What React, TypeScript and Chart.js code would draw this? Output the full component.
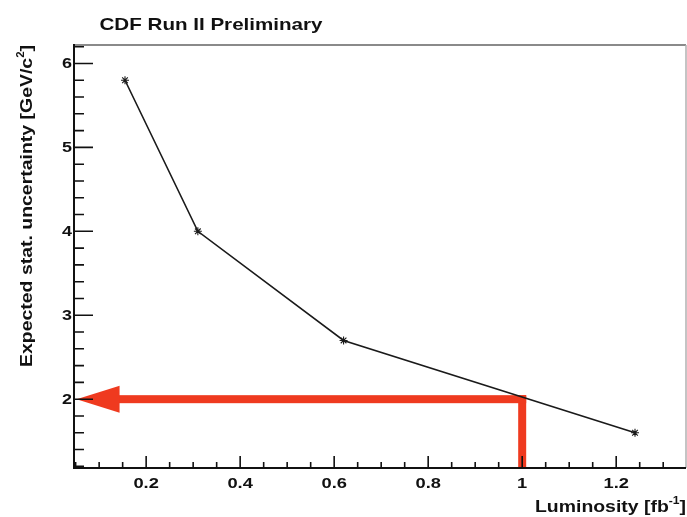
import React, { useEffect, useRef } from 'react';
import { Chart, registerables } from 'chart.js';

Chart.register(...registerables);

// ---- data ----
const luminosity = [0.155, 0.31, 0.62, 1.24];
const uncertainty = [5.8, 4.0, 2.7, 1.6];
const xTickValues = [0.2, 0.4, 0.6, 0.8, 1.0, 1.2];
const xTickLabels = ['0.2', '0.4', '0.6', '0.8', '1', '1.2'];
const yTickValues = [2, 3, 4, 5, 6];
const yTickLabels = ['2', '3', '4', '5', '6'];
const arrowStart = [1.0, 2.0]; // [luminosity, uncertainty] of the arrow corner
const arrowTipLuminosity = [0.052];
const titleText = 'CDF Run II Preliminary';
const xTitleParts = ['Luminosity [fb', '-1', ']'];
const yTitleParts = ['Expected stat. uncertainty [GeV/c', '2', ']'];

const FONT = '"Liberation Sans", Arial, Helvetica, sans-serif';
const RED = '#ef3a1f';

type Seg = { t: string; sup?: boolean };

function fontFor(size: number, sup?: boolean) {
  return `bold ${sup ? Math.round(size * 0.6) : size}px ${FONT}`;
}

function segsWidth(ctx: CanvasRenderingContext2D, segs: Seg[], size: number) {
  let w = 0;
  for (const s of segs) {
    ctx.font = fontFor(size, s.sup);
    w += ctx.measureText(s.t).width;
  }
  return w;
}

function drawSegs(
  ctx: CanvasRenderingContext2D,
  segs: Seg[],
  size: number,
  x: number,
  y: number,
  align: 'left' | 'right' | 'center',
  opts: { target?: number; sx?: number; rotate?: number } = {}
) {
  const w = segsWidth(ctx, segs, size);
  const scale = opts.target ? opts.target / w : opts.sx ?? 1;
  ctx.save();
  ctx.translate(x, y);
  if (opts.rotate) ctx.rotate(opts.rotate);
  ctx.scale(scale, 1);
  let cx = align === 'left' ? 0 : align === 'right' ? -w : -w / 2;
  ctx.fillStyle = '#111';
  ctx.textAlign = 'left';
  ctx.textBaseline = 'alphabetic';
  for (const s of segs) {
    ctx.font = fontFor(size, s.sup);
    ctx.fillText(s.t, cx, s.sup ? -size * 0.5 : 0);
    cx += ctx.measureText(s.t).width;
  }
  ctx.restore();
}

const arrowPlugin = {
  id: 'redArrow',
  beforeDatasetsDraw(chart: any) {
    const { ctx, chartArea, scales } = chart;
    const xs = scales.x.getPixelForValue(arrowStart[0]);
    const ys = scales.y.getPixelForValue(arrowStart[1]);
    const tip = scales.x.getPixelForValue(arrowTipLuminosity[0]);
    const headLen = 43;
    const headHalf = 13.5;
    const half = 4;
    ctx.save();
    ctx.fillStyle = RED;
    ctx.fillRect(xs - half, ys - half, half * 2, chartArea.bottom - (ys - half));
    ctx.fillRect(tip + headLen - 1, ys - half, xs + half - (tip + headLen - 1), half * 2);
    ctx.beginPath();
    ctx.moveTo(tip, ys);
    ctx.lineTo(tip + headLen, ys - headHalf);
    ctx.lineTo(tip + headLen, ys + headHalf);
    ctx.closePath();
    ctx.fill();
    ctx.restore();
  },
};

const rootStylePlugin = {
  id: 'rootStyle',
  afterDraw(chart: any) {
    const { ctx, chartArea, scales } = chart;
    const { left, right, top, bottom } = chartArea;
    const xs = scales.x;
    const ys = scales.y;
    ctx.save();
    // frame
    ctx.strokeStyle = '#8a8a8a';
    ctx.lineWidth = 2;
    ctx.beginPath();
    ctx.moveTo(left, top);
    ctx.lineTo(right, top);
    ctx.stroke();
    ctx.strokeStyle = '#b0b0b0';
    ctx.lineWidth = 1.5;
    ctx.beginPath();
    ctx.moveTo(right, top);
    ctx.lineTo(right, bottom);
    ctx.stroke();
    // axes
    ctx.strokeStyle = '#111';
    ctx.lineWidth = 2;
    ctx.beginPath();
    ctx.moveTo(left, top - 1);
    ctx.lineTo(left, bottom);
    ctx.lineTo(right, bottom);
    ctx.stroke();
    // x ticks
    ctx.lineWidth = 1.6;
    ctx.beginPath();
    for (let v = 0.05; v < xs.max; v += 0.05) {
      const vv = Math.round(v * 100) / 100;
      if (vv <= xs.min) continue;
      const px = xs.getPixelForValue(vv);
      const major = xTickValues.some((t) => Math.abs(t - vv) < 1e-6);
      ctx.moveTo(px, bottom);
      ctx.lineTo(px, bottom - (major ? 12 : 6));
    }
    // y ticks
    for (let v = 1.2; v < ys.max; v += 0.2) {
      const vv = Math.round(v * 10) / 10;
      if (vv <= ys.min) continue;
      const py = ys.getPixelForValue(vv);
      const major = yTickValues.some((t) => Math.abs(t - vv) < 1e-6);
      ctx.moveTo(left, py);
      ctx.lineTo(left + (major ? 19 : 10), py);
    }
    ctx.stroke();
    ctx.restore();

    // tick labels
    xTickValues.forEach((v, i) => {
      const px = xs.getPixelForValue(v);
      drawSegs(ctx, [{ t: xTickLabels[i] }], 15, px, bottom + 20, 'center', { sx: 1.22 });
    });
    yTickValues.forEach((v, i) => {
      const py = ys.getPixelForValue(v);
      drawSegs(ctx, [{ t: yTickLabels[i] }], 14, left - 2, py + 5, 'right', { sx: 1.28 });
    });

    // titles
    drawSegs(ctx, [{ t: titleText }], 17, 211, 29.5, 'center', { target: 223 });
    drawSegs(
      ctx,
      [{ t: xTitleParts[0] }, { t: xTitleParts[1], sup: true }, { t: xTitleParts[2] }],
      16,
      686,
      512,
      'right',
      { target: 151 }
    );
    drawSegs(
      ctx,
      [{ t: yTitleParts[0] }, { t: yTitleParts[1], sup: true }, { t: yTitleParts[2] }],
      17,
      32,
      367,
      'left',
      { target: 322, rotate: -Math.PI / 2 }
    );
  },
};

export default function App() {
  const ref = useRef<HTMLCanvasElement | null>(null);
  useEffect(() => {
    if (!ref.current) return;
    const chart = new Chart(ref.current, {
      type: 'line',
      data: {
        datasets: [
          {
            data: luminosity.map((x, i) => ({ x, y: uncertainty[i] })),
            borderColor: '#1a1a1a',
            borderWidth: 1.6,
            pointStyle: 'star',
            pointRadius: 4,
            pointBorderColor: '#1a1a1a',
            pointBorderWidth: 1.1,
            pointBackgroundColor: '#1a1a1a',
            tension: 0,
            fill: false,
          },
        ],
      },
      options: {
        animation: false,
        responsive: true,
        maintainAspectRatio: false,
        layout: { autoPadding: false, padding: { top: 45, right: 1, left: 0, bottom: 0 } },
        plugins: { legend: { display: false }, tooltip: { enabled: false }, title: { display: false } },
        scales: {
          x: {
            type: 'linear',
            min: 0.0465,
            max: 1.3485,
            grid: { display: false },
            border: { display: false },
            ticks: { display: false },
            afterFit: (s: any) => {
              s.height = 49;
            },
          },
          y: {
            type: 'linear',
            min: 1.18,
            max: 6.22,
            grid: { display: false },
            border: { display: false },
            ticks: { display: false },
            afterFit: (s: any) => {
              s.width = 74;
            },
          },
        },
      } as any,
      plugins: [arrowPlugin, rootStylePlugin],
    });
    return () => chart.destroy();
  }, []);
  return (
    <div style={{ position: 'absolute', left: 0, top: 0, width: 687, height: 517, background: '#fff' }}>
      <canvas ref={ref} />
    </div>
  );
}
